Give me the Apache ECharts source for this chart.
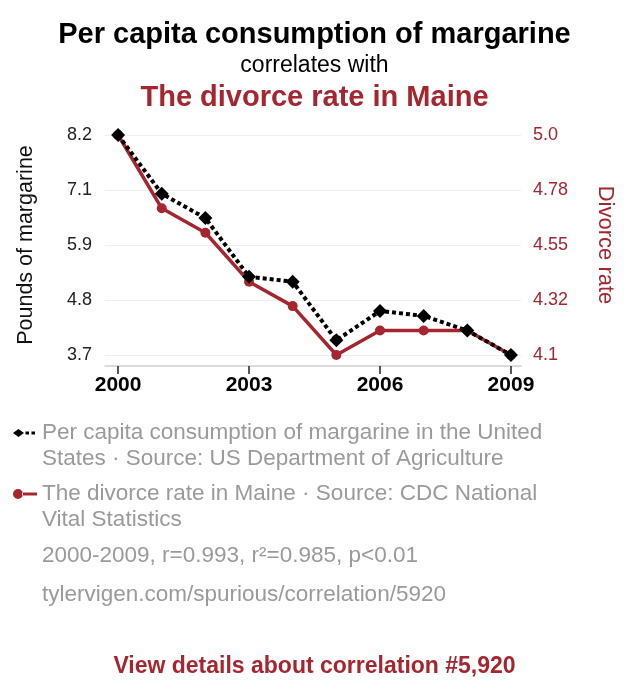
<!DOCTYPE html>
<html>
<head>
<meta charset="utf-8">
<script src="https://cdn.jsdelivr.net/npm/echarts@6/dist/echarts.min.js"></script>
<style>
  html, body { margin: 0; padding: 0; background: #fff; }
  #chart { width: 629px; height: 700px; }
</style>
</head>
<body>
<div id="chart"></div>
<script>
var years = [2000, 2001, 2002, 2003, 2004, 2005, 2006, 2007, 2008, 2009];
var margarine = [8.2, 7.0, 6.5, 5.3, 5.2, 4.0, 4.6, 4.5, 4.2, 3.7];
var divorce = [5.0, 4.7, 4.6, 4.4, 4.3, 4.1, 4.2, 4.2, 4.2, 4.1];
var yearTicks = [2000, 2003, 2006, 2009];
var leftTickLabels = ['3.7', '4.8', '5.9', '7.1', '8.2'];
var rightTickLabels = ['4.1', '4.32', '4.55', '4.78', '5.0'];
var legendFirst = {
    'Margarine': 'Per capita consumption of margarine in the United',
    'Divorce': 'The divorce rate in Maine \u00b7 Source: CDC National'
};
var legendSecond = ['States \u00b7 Source: US Department of Agriculture', 'Vital Statistics'];
var statsText = '2000-2009, r=0.993, r\u00b2=0.985, p<0.01';
var linkText = 'tylervigen.com/spurious/correlation/5920';

var RED = '#a5262f';
var GREY = '#9a9a9a';
var FONT = '"Liberation Sans", Arial, Helvetica, sans-serif';

function pairs(values) {
    var out = [];
    for (var i = 0; i < years.length; i++) {
        out.push([years[i], values[i]]);
    }
    return out;
}

function greyText(text, top) {
    return { type: 'text', left: 42, top: top,
             style: { text: text, fontSize: 22.5, fill: GREY, fontFamily: FONT } };
}

var chart = echarts.init(document.getElementById('chart'));
var option = {
    backgroundColor: '#fff',
    animation: false,
    textStyle: { fontFamily: FONT },
    title: [
        { text: 'Per capita consumption of margarine', left: 'center', top: 15,
          textStyle: { fontSize: 29, fontWeight: 'bold', color: '#000', fontFamily: FONT } },
        { text: 'correlates with', left: 'center', top: 49,
          textStyle: { fontSize: 23, fontWeight: 'normal', color: '#000', fontFamily: FONT } },
        { text: 'The divorce rate in Maine', left: 'center', top: 78,
          textStyle: { fontSize: 29, fontWeight: 'bold', color: RED, fontFamily: FONT } },
        { text: 'View details about correlation #5,920', left: 'center', top: 650,
          textStyle: { fontSize: 23, fontWeight: 'bold', color: RED, fontFamily: FONT } }
    ],
    grid: { left: 105, right: 108, top: 135, bottom: 345 },
    legend: {
        orient: 'vertical',
        left: 8,
        top: 415,
        itemWidth: 24,
        itemHeight: 10,
        itemGap: 35,
        selectedMode: false,
        data: [
            { name: 'Margarine', icon: 'path://M0,5 L5.5,1 L11,5 L5.5,9 Z M12.5,3.5 h3.5 v3 h-3.5 Z M18.5,3.5 h3.5 v3 h-3.5 Z M0,0 M24,10' },
            { name: 'Divorce', icon: 'path://M0,5 a5,5 0 1,0 10,0 a5,5 0 1,0 -10,0 Z M9,3.5 h15 v3 h-15 Z' }
        ],
        formatter: function (name) { return legendFirst[name]; },
        textStyle: { fontSize: 22.5, color: GREY, lineHeight: 26, fontFamily: FONT }
    },
    graphic: [
        greyText(legendSecond[0], 447),
        greyText(legendSecond[1], 508),
        greyText(statsText, 544),
        greyText(linkText, 583)
    ],
    xAxis: {
        type: 'value',
        min: 1999.7,
        max: 2009.23,
        offset: 11,
        axisLine: { show: true, lineStyle: { color: '#cfcfcf', width: 1.5 } },
        axisTick: { show: true, customValues: yearTicks, length: 8, lineStyle: { color: '#222', width: 1.5 } },
        axisLabel: { customValues: yearTicks, fontSize: 21, fontWeight: 'bold', color: '#000', margin: 9,
                     formatter: function (v) { return String(v); } },
        splitLine: { show: false }
    },
    yAxis: [
        {
            type: 'value',
            min: 3.7,
            max: 8.2,
            interval: 1.125,
            name: 'Pounds of margarine',
            nameLocation: 'middle',
            nameGap: 68,
            nameTextStyle: { fontSize: 21.5, color: '#111', fontFamily: FONT },
            axisLine: { show: false },
            axisTick: { show: false },
            axisLabel: { fontSize: 18, color: '#222', margin: 13,
                         formatter: function (v) { return leftTickLabels[Math.round((v - 3.7) / 1.125)]; } },
            splitLine: { show: true, lineStyle: { color: '#efefef', width: 1 } }
        },
        {
            type: 'value',
            min: 4.1,
            max: 5.0,
            interval: 0.225,
            name: 'Divorce rate',
            nameLocation: 'middle',
            nameGap: 73,
            nameRotate: -90,
            nameTextStyle: { fontSize: 22, color: RED, fontFamily: FONT },
            axisLine: { show: false },
            axisTick: { show: false },
            axisLabel: { fontSize: 18, color: RED, margin: 12,
                         formatter: function (v) { return rightTickLabels[Math.round((v - 4.1) / 0.225)]; } },
            splitLine: { show: false }
        }
    ],
    series: [
        {
            name: 'Divorce',
            type: 'line',
            yAxisIndex: 1,
            data: pairs(divorce),
            symbol: 'circle',
            symbolSize: 10,
            color: RED,
            lineStyle: { color: RED, width: 3.5 },
            itemStyle: { color: RED },
            z: 2
        },
        {
            name: 'Margarine',
            type: 'line',
            yAxisIndex: 0,
            data: pairs(margarine),
            symbol: 'diamond',
            symbolSize: 14,
            color: '#000',
            lineStyle: { color: '#000', width: 4, type: [4, 3] },
            itemStyle: { color: '#000' },
            z: 3
        }
    ]
};
chart.setOption(option);
</script>
</body>
</html>
